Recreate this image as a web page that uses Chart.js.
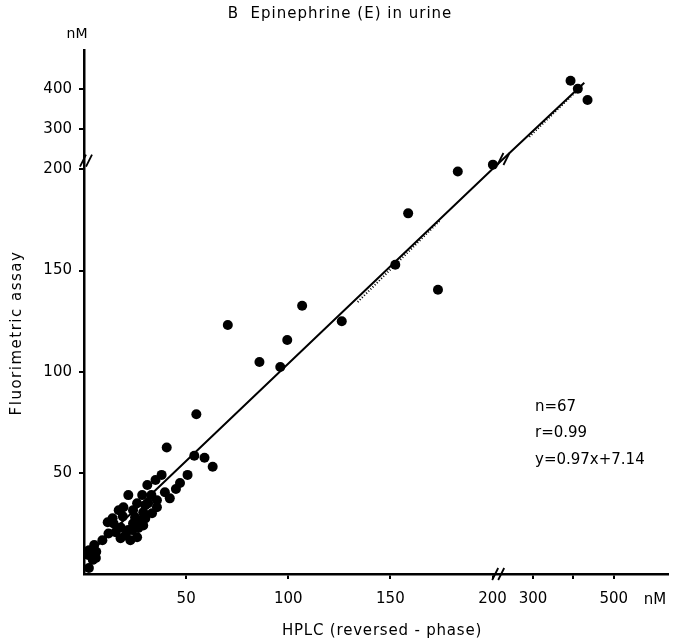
<!DOCTYPE html>
<html>
<head>
<meta charset="utf-8">
<script src="https://cdn.jsdelivr.net/npm/chart.js@4.4.0/dist/chart.umd.min.js"></script>
<style>
  html, body { margin: 0; padding: 0; background: #fff; }
  #wrap { width: 673px; height: 642px; }
</style>
</head>
<body>
<div id="wrap"><canvas id="chart"></canvas></div>
<script>
// tick values (both axes are broken above 200 nM)
const xTicks = [50, 100, 150, 200, 300, 400, 500];
const yTicks = [50, 100, 150, 200, 300, 400];

// samples, HPLC (x) vs fluorimetric assay (y), nM
const xValues = [
    393, 411, 435, 201, 183,
    158.7, 173.3, 152.4, 126.2, 106.8, 99.5, 96.1, 85.9, 70.4,
    55, 40.5, 54, 59, 63,
    31, 35, 38, 50.7, 47, 45, 42, 39.6, 21.7, 28.5,
    31.4, 35.7, 19.3, 24, 17, 29, 33.3, 27.5, 24, 21.7,
    26.6, 26, 17.9, 15.5, 14.5, 11.6, 14, 20.3, 22.7, 23.7,
    30, 26, 35.7, 9, 5, 2.5, 2, 4.3, 5.8, 2.4,
    19, 25, 30, 18, 29, 33, 12, 6
];
const yValues = [
    420, 400, 372, 212, 199,
    178.3, 140.5, 152.9, 125, 132.6, 115.7, 102.3, 104.8, 123.1,
    79, 62.5, 58.5, 57.5, 53,
    44, 46.5, 49, 49, 45, 42, 37.4, 40.4, 39, 39,
    35, 36.5, 33, 31.5, 31.5, 30.5, 30, 26.6, 25, 21.7,
    22.7, 18.2, 17.7, 20.7, 25, 25.6, 27.6, 19.2, 16.7, 21.7,
    34, 35, 33, 16.7, 14.3, 11.8, 9.4, 7, 7.9, 3,
    28.5, 28, 27.5, 23, 24, 39, 20, 11
];

// regression line y = 0.97x + 7.14 as drawn
const fitX = [4.4, 200, 427];
const fitY = [12, 201, 415];

// stippled stretches along the line
const hatchLowX = [134, 174];
const hatchLowY = [134.5, 174.5];
const hatchHighX = [291, 423];
const hatchHighY = [281, 409];

const stats = ['n=67', 'r=0.99', 'y=0.97x+7.14'];

// value -> fraction of axis length, piecewise linear around the break
const BREAKS = {
    x: [[0, 0], [200, 0.6995], [634, 1]],
    y: [[0, 0], [200, 0.772], [496, 1]]
};

class BrokenScale extends Chart.LinearScale {
    static id = 'broken';
    static defaults = {};

    determineDataLimits() {
        const seg = BREAKS[this.id];
        this.min = seg[0][0];
        this.max = seg[seg.length - 1][0];
    }

    buildTicks() {
        const list = this.id === 'x' ? xTicks : yTicks;
        return list.map(v => ({ value: v }));
    }

    toDecimal(v) {
        const seg = BREAKS[this.id];
        for (let i = 1; i < seg.length; i++) {
            if (v <= seg[i][0] || i === seg.length - 1) {
                const [v0, d0] = seg[i - 1], [v1, d1] = seg[i];
                return d0 + (v - v0) / (v1 - v0) * (d1 - d0);
            }
        }
        return 0;
    }

    getPixelForValue(value) {
        return this.getPixelForDecimal(this.toDecimal(value));
    }

    getValueForPixel(pixel) {
        const d = this.getDecimalForPixel(pixel);
        const seg = BREAKS[this.id];
        for (let i = 1; i < seg.length; i++) {
            if (d <= seg[i][1] || i === seg.length - 1) {
                const [v0, d0] = seg[i - 1], [v1, d1] = seg[i];
                return v0 + (d - d0) / (d1 - d0) * (v1 - v0);
            }
        }
        return 0;
    }
}
Chart.register(BrokenScale);

const FONT = 'DejaVu Sans';

function drawText(ctx, text, x, y, size, align, spacing) {
    ctx.font = size + 'px "' + FONT + '"';
    ctx.textAlign = align;
    ctx.textBaseline = 'middle';
    ctx.letterSpacing = spacing + 'px';
    ctx.fillText(text, x, y);
}

function slashes(ctx, cx, cy) {
    ctx.lineWidth = 1.8;
    [-3, 3].forEach(dx => {
        ctx.beginPath();
        ctx.moveTo(cx + dx - 3, cy + 6);
        ctx.lineTo(cx + dx + 3, cy - 6);
        ctx.stroke();
    });
}

const overlay = {
    id: 'overlay',
    afterDraw(chart) {
        const ctx = chart.ctx;
        const xs = chart.scales.x, ys = chart.scales.y;
        const area = chart.chartArea;
        ctx.save();
        ctx.fillStyle = '#000';
        ctx.strokeStyle = '#000';

        drawText(ctx, 'B  Epinephrine (E) in urine', 340, 14, 15, 'center', 1);
        drawText(ctx, 'nM', 77, 34, 14, 'center', 0);
        drawText(ctx, 'nM', 655, 600, 15, 'center', 0);
        drawText(ctx, 'HPLC (reversed - phase)', 382, 631, 15, 'center', 0.8);

        ctx.save();
        ctx.translate(17, 333);
        ctx.rotate(-Math.PI / 2);
        drawText(ctx, 'Fluorimetric assay', 0, 0, 15, 'center', 1.5);
        ctx.restore();

        stats.forEach((s, i) => drawText(ctx, s, 535, 407 + i * 26.5, 15, 'left', 0));

        ctx.letterSpacing = '0px';
        slashes(ctx, area.left + 2, ys.getPixelForValue(222));
        slashes(ctx, xs.getPixelForValue(214), area.bottom);
        slashes(ctx, xs.getPixelForValue(227), ys.getPixelForValue(226));
        ctx.restore();
    }
};

const toPoints = (xa, ya) => xa.map((x, i) => ({ x: x, y: ya[i] }));

const axisCommon = {
    type: 'broken',
    grid: { drawOnChartArea: false, drawTicks: true, tickLength: 5, color: '#000', lineWidth: 2 },
    border: { display: true, color: '#000', width: 2.5 },
    title: { display: false }
};

new Chart(document.getElementById('chart'), {
    type: 'scatter',
    data: {
        datasets: [{
            label: 'Samples',
            data: toPoints(xValues, yValues),
            backgroundColor: '#000',
            borderColor: '#000',
            borderWidth: 0,
            pointRadius: 5,
            pointHoverRadius: 5,
            clip: false
        }, {
            type: 'line',
            label: 'Fit',
            data: toPoints(fitX, fitY),
            borderColor: '#000',
            borderWidth: 2,
            pointRadius: 0,
            fill: false,
            tension: 0
        }, {
            type: 'line',
            label: 'hatch-low',
            data: toPoints(hatchLowX, hatchLowY),
            borderColor: '#000',
            borderWidth: 2,
            borderDash: [1, 2],
            pointRadius: 0,
            fill: false
        }, {
            type: 'line',
            label: 'hatch-high',
            data: toPoints(hatchHighX, hatchHighY),
            borderColor: '#000',
            borderWidth: 2,
            borderDash: [1, 2],
            pointRadius: 0,
            fill: false
        }]
    },
    options: {
        responsive: true,
        maintainAspectRatio: false,
        animation: false,
        events: [],
        layout: { padding: { top: 50, left: 0, right: 0, bottom: 0 } },
        plugins: {
            legend: { display: false },
            tooltip: { enabled: false },
            title: { display: false }
        },
        scales: {
            x: Object.assign({}, axisCommon, {
                position: 'bottom',
                ticks: {
                    autoSkip: false,
                    maxRotation: 0,
                    padding: 11,
                    color: '#000',
                    font: { family: FONT, size: 15 },
                    callback: v => (v === 400 ? '' : String(v))
                },
                afterFit: scale => { scale.height = 68; }
            }),
            y: Object.assign({}, axisCommon, {
                position: 'left',
                ticks: {
                    autoSkip: false,
                    padding: 7,
                    color: '#000',
                    font: { family: FONT, size: 15 },
                    callback: v => String(v)
                },
                afterFit: scale => { scale.width = 84; }
            })
        }
    },
    plugins: [overlay]
});
</script>
</body>
</html>
